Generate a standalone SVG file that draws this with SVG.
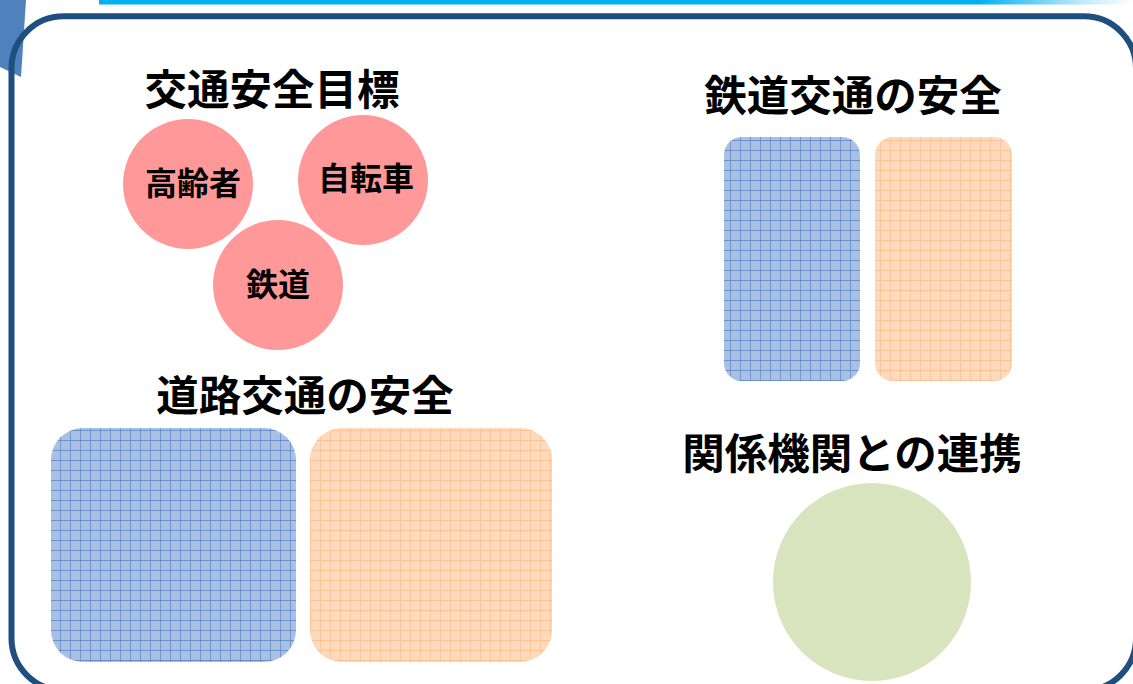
<svg xmlns="http://www.w3.org/2000/svg" width="1133" height="684" viewBox="0 0 1133 684">
<defs>
<style>
.ttl{font-family:"Noto Sans CJK JP","Noto Sans CJK SC",sans-serif;font-weight:bold;font-size:42.5px;fill:#000;text-anchor:middle}
.lbl{font-family:"Noto Sans CJK JP","Noto Sans CJK SC",sans-serif;font-weight:bold;font-size:32px;fill:#000;text-anchor:middle}
.pink{fill:#ff9999}
</style>
<linearGradient id="bar" x1="0" y1="0" x2="1" y2="0">
<stop offset="0" stop-color="#00b0f0"/>
<stop offset="0.85" stop-color="#00b0f0"/>
<stop offset="0.95" stop-color="#bfe9fb"/>
<stop offset="1" stop-color="#ffffff"/>
</linearGradient>
<pattern id="gBlue" patternUnits="userSpaceOnUse" width="10" height="10">
<rect width="10" height="10" fill="#a9c0e2"/>
<path d="M0 0H10M0 0V10" stroke="#5583c6" stroke-width="1.3" fill="none"/>
</pattern>
<pattern id="gOrange" patternUnits="userSpaceOnUse" width="10" height="10">
<rect width="10" height="10" fill="#fddabd"/>
<path d="M0 0H10M0 0V10" stroke="#fbbd88" stroke-width="1.3" fill="none"/>
</pattern>
</defs>
<rect width="1133" height="684" fill="#ffffff"/>
<rect x="99" y="0" width="1034" height="4.5" fill="url(#bar)"/>
<polygon points="0,0 26,0 21,77 0,67" fill="#4f81bd"/>
<rect x="11.5" y="16.3" width="1124.5" height="674" rx="52" ry="52" fill="none" stroke="#1f4e80" stroke-width="6"/>
<g id="connectors"></g>
<g id="title-goal"><text class="ttl" x="272" y="105">交通安全目標</text></g>
<g id="circle-elderly"><circle class="pink" cx="188" cy="184" r="65"/><text class="lbl" x="193" y="195">高齢者</text></g>
<g id="circle-bicycle"><circle class="pink" cx="363" cy="180" r="65"/><text class="lbl" x="366" y="190">自転車</text></g>
<g id="circle-railway"><circle class="pink" cx="278" cy="285" r="65"/><text class="lbl" x="278" y="296">鉄道</text></g>
<g id="title-road"><text class="ttl" x="305" y="411">道路交通の安全</text></g>
<g id="road-blue"><rect x="51" y="428" width="245" height="234" rx="32" fill="url(#gBlue)"/></g>
<g id="road-orange"><rect x="310" y="428" width="242" height="234" rx="32" fill="url(#gOrange)"/></g>
<g id="title-rail"><text class="ttl" x="853" y="111">鉄道交通の安全</text></g>
<g id="rail-blue"><rect x="724" y="137" width="136" height="244" rx="18" fill="url(#gBlue)"/></g>
<g id="rail-orange"><rect x="875" y="137" width="137" height="244" rx="18" fill="url(#gOrange)"/></g>
<g id="title-coop"><text class="ttl" x="852" y="469">関係機関との連携</text></g>
<g id="coop-circle"><circle cx="872" cy="582" r="99" fill="#d7e4bd"/></g>
</svg>
